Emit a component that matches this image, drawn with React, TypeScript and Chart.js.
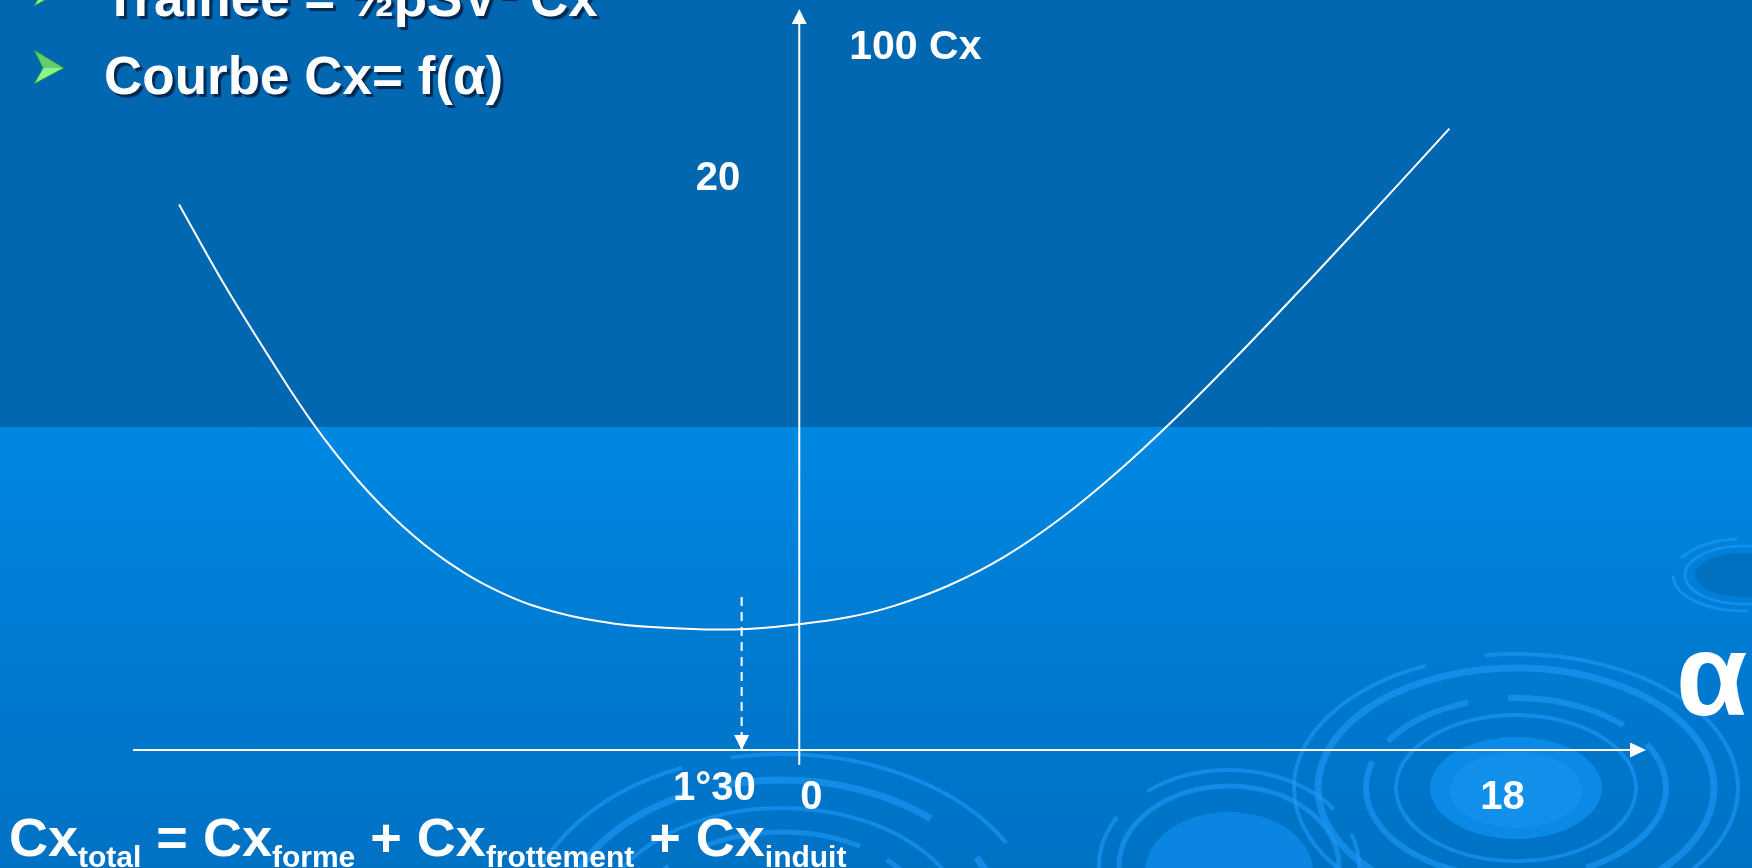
import { useEffect, useRef } from 'react';
import { Chart, registerables } from 'chart.js';

Chart.register(...registerables);

// Angle of attack (degrees) and 100·Cx along the drag curve
const alphaDeg = [
  -16.15, -15.0, -13.8, -12.66, -11.5, -10.33, -9.17, -7.71, -6.26, -4.8, -3.35, -1.5,
  0, 1.3, 2.47, 3.92, 5.38, 6.83, 8.29, 9.74, 11.2, 12.65, 14.11, 15.56, 16.93,
];
const cx100 = [
  19.07, 16.33, 13.73, 11.41, 9.44, 7.83, 6.59, 5.47, 4.79, 4.42, 4.27, 4.22,
  4.4, 4.65, 5.04, 5.77, 6.79, 8.12, 9.73, 11.53, 13.49, 15.52, 17.61, 19.71, 21.72,
];

// Minimum-drag angle marker (1°30) and the top of its dashed guide
const minDragAlpha = -1.5;
const minGuideTop = 5.35;

// Axis ticks and titles
const xTickValues = [-1.5, 0, 18];
const xTickLabels = ['1°30', '0', '18'];
const yTickValues = [20];
const yTickLabels = ['20'];
const yAxisTitle = '100 Cx';
const xAxisTitle = 'α';

// Axis extents (the axis lines span the whole plot area)
const xRange = [-17.35, 22.05];
const yRange = [-0.52, 25.9];

// Slide text
const bulletLines = ['Traînée = ½ρSV² Cx', 'Courbe Cx= f(α)'];
const formulaBase = 'Cx';
const formulaSubs = ['total', 'forme', 'frottement', 'induit'];
const formulaOps = ['=', '+', '+'];

const FONT = '"Liberation Sans", Arial, sans-serif';

function arrowHead(ctx: CanvasRenderingContext2D, x: number, y: number, dir: 'up' | 'down' | 'right', len = 15, half = 7.5) {
  ctx.beginPath();
  if (dir === 'up') {
    ctx.moveTo(x, y);
    ctx.lineTo(x - half, y + len);
    ctx.lineTo(x + half, y + len);
  } else if (dir === 'down') {
    ctx.moveTo(x, y);
    ctx.lineTo(x - half, y - len);
    ctx.lineTo(x + half, y - len);
  } else {
    ctx.moveTo(x, y);
    ctx.lineTo(x - len, y - half);
    ctx.lineTo(x - len, y + half);
  }
  ctx.closePath();
  ctx.fill();
}

// Crossed axes through the origin, with arrows, ticks and titles
const crossAxes = {
  id: 'crossAxes',
  afterDatasetsDraw(chart: any) {
    const { ctx, chartArea: a, scales } = chart;
    const xs = scales.x;
    const ys = scales.y;
    const x0 = xs.getPixelForValue(0);
    const y0 = ys.getPixelForValue(0);
    ctx.save();
    ctx.strokeStyle = '#ffffff';
    ctx.fillStyle = '#ffffff';
    ctx.lineWidth = 2;

    ctx.beginPath();
    ctx.moveTo(a.left, y0);
    ctx.lineTo(a.right - 12, y0);
    ctx.stroke();
    arrowHead(ctx, a.right, y0, 'right', 16, 7.5);

    ctx.beginPath();
    ctx.moveTo(x0, a.bottom);
    ctx.lineTo(x0, a.top + 12);
    ctx.stroke();
    arrowHead(ctx, x0, a.top, 'up', 15, 7.5);

    arrowHead(ctx, xs.getPixelForValue(minDragAlpha), y0, 'down', 15, 7.5);

    ctx.font = `bold 40px ${FONT}`;
    ctx.textBaseline = 'middle';
    xTickValues.forEach((v, i) => {
      const px = xs.getPixelForValue(v);
      if (v < 0) {
        ctx.textAlign = 'right';
        ctx.fillText(xTickLabels[i], px + 14, y0 + 39);
      } else {
        ctx.textAlign = 'center';
        ctx.fillText(xTickLabels[i], px + 12, y0 + 48);
      }
    });
    yTickValues.forEach((v, i) => {
      ctx.textAlign = 'right';
      ctx.fillText(yTickLabels[i], x0 - 59, ys.getPixelForValue(v) + 1);
    });

    ctx.font = `bold 41px ${FONT}`;
    ctx.textAlign = 'left';
    ctx.fillText(yAxisTitle, x0 + 50, a.top + 39);

    ctx.font = `bold 116px ${FONT}`;
    ctx.textBaseline = 'alphabetic';
    ctx.fillText(xAxisTitle, a.right + 30, y0 - 35);
    ctx.restore();
  },
};

type Ring = { cx: number; cy: number; rx: number; ry: number; w: number; dash?: string };

const rippleFills = [
  { cx: 1516, cy: 788, rx: 86, ry: 51, fill: '#0a8ae6' },
  { cx: 1516, cy: 790, rx: 66, ry: 38, fill: '#1090ea' },
  { cx: 1229, cy: 872, rx: 84, ry: 60, fill: '#0a86e2' },
  { cx: 1743, cy: 575, rx: 48, ry: 22, fill: '#0070c0' },
];

const rippleRings: Ring[] = [
  { cx: 1516, cy: 788, rx: 222, ry: 134, w: 4, dash: '420 40 300 60' },
  { cx: 1516, cy: 788, rx: 198, ry: 120, w: 7 },
  { cx: 1516, cy: 788, rx: 150, ry: 90, w: 6, dash: '120 30 260 26 90 40' },
  { cx: 1516, cy: 788, rx: 120, ry: 73, w: 4 },
  { cx: 1229, cy: 866, rx: 130, ry: 96, w: 4, dash: '200 30 180 40' },
  { cx: 1229, cy: 866, rx: 110, ry: 80, w: 5 },
  { cx: 782, cy: 930, rx: 258, ry: 176, w: 4, dash: '260 50 300 60' },
  { cx: 782, cy: 930, rx: 222, ry: 150, w: 7, dash: '60 40 140 30 220 60' },
  { cx: 782, cy: 930, rx: 185, ry: 122, w: 4 },
  { cx: 782, cy: 930, rx: 150, ry: 98, w: 5, dash: '120 40 160 30' },
  { cx: 1743, cy: 575, rx: 70, ry: 36, w: 3, dash: '60 20 90 20' },
  { cx: 1743, cy: 575, rx: 58, ry: 29, w: 3 },
];

export default function App() {
  const canvasRef = useRef<HTMLCanvasElement>(null);

  useEffect(() => {
    document.body.style.margin = '0';
    const canvas = canvasRef.current;
    if (!canvas) return;
    const chart = new Chart(canvas, {
      type: 'line',
      data: {
        datasets: [
          {
            data: alphaDeg.map((a, i) => ({ x: a, y: cx100[i] })),
            borderColor: '#ffffff',
            borderWidth: 2,
            pointRadius: 0,
            fill: false,
            tension: 0.4,
          },
          {
            data: [
              { x: minDragAlpha, y: minGuideTop },
              { x: minDragAlpha, y: 0 },
            ],
            borderColor: '#ffffff',
            borderWidth: 2,
            borderDash: [9, 6],
            pointRadius: 0,
            fill: false,
          },
        ],
      },
      options: {
        animation: false,
        responsive: true,
        maintainAspectRatio: false,
        events: [],
        layout: { padding: { left: 133, right: 106, top: 9, bottom: 103 } },
        plugins: { legend: { display: false }, tooltip: { enabled: false } },
        scales: {
          x: { type: 'linear', min: xRange[0], max: xRange[1], display: false },
          y: { type: 'linear', min: yRange[0], max: yRange[1], display: false },
        },
      },
      plugins: [crossAxes],
    } as any);
    return () => chart.destroy();
  }, []);

  const textShadow = '3px 3px 1px rgba(0, 20, 50, 0.75)';

  return (
    <div
      style={{
        position: 'fixed',
        left: 0,
        top: 0,
        width: 1752,
        height: 868,
        overflow: 'hidden',
        background:
          'linear-gradient(to bottom, #0067b0 0px, #0067b0 427px, #0088e3 427px, #0078ce 700px, #0072c4 868px)',
        fontFamily: FONT,
        color: '#ffffff',
      }}
    >
      <svg width={1752} height={868} style={{ position: 'absolute', left: 0, top: 0 }}>
        {rippleFills.map((f, i) => (
          <ellipse key={'f' + i} cx={f.cx} cy={f.cy} rx={f.rx} ry={f.ry} fill={f.fill} />
        ))}
        {rippleRings.map((r, i) => (
          <ellipse
            key={'r' + i}
            cx={r.cx}
            cy={r.cy}
            rx={r.rx}
            ry={r.ry}
            fill="none"
            stroke="rgba(30, 155, 250, 0.6)"
            strokeWidth={r.w}
            strokeDasharray={r.dash}
          />
        ))}
        {/* bullet arrowheads */}
        {[-28, 50].map((top, i) => (
          <g key={'b' + i} transform={`translate(34, ${top})`}>
            <polygon points="0,0 30,18 0,34 9,18" fill="#8af58a" />
            <polygon points="0,0 30,18 9,18" fill="#3fae57" opacity="0.55" />
            <polyline points="0,0 30,18 0,34 9,18 0,0" fill="none" stroke="#2e8f45" strokeWidth="1" />
          </g>
        ))}
      </svg>

      <div style={{ position: 'absolute', left: 0, top: 0, width: 1752, height: 868 }}>
        <canvas ref={canvasRef} />
      </div>

      {bulletLines.map((line, i) => (
        <div
          key={line}
          style={{
            position: 'absolute',
            left: 104,
            top: -29 + i * 78,
            fontSize: 53,
            lineHeight: '53px',
            fontWeight: 'bold',
            whiteSpace: 'pre',
            textShadow,
          }}
        >
          {line}
        </div>
      ))}

      <div
        style={{
          position: 'absolute',
          left: 9,
          top: 810,
          fontSize: 54,
          lineHeight: '54px',
          fontWeight: 'bold',
          whiteSpace: 'pre',
        }}
      >
        {formulaSubs.map((sub, i) => (
          <span key={sub}>
            {formulaBase}
            <span style={{ fontSize: 30, verticalAlign: -11 }}>{sub}</span>
            {i < formulaOps.length ? ` ${formulaOps[i]} ` : ''}
          </span>
        ))}
      </div>
    </div>
  );
}
